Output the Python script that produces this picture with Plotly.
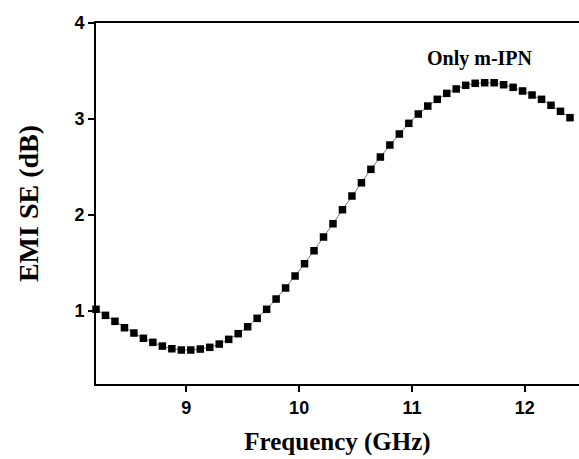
import plotly.graph_objects as go

freq_ghz = [8.200, 8.284, 8.368, 8.452, 8.536, 8.620, 8.704, 8.788, 8.872, 8.956,
            9.040, 9.124, 9.208, 9.292, 9.376, 9.460, 9.544, 9.628, 9.712, 9.796,
            9.880, 9.964, 10.048, 10.132, 10.216, 10.300, 10.384, 10.468, 10.552, 10.636,
            10.720, 10.804, 10.888, 10.972, 11.056, 11.140, 11.224, 11.308, 11.392, 11.476,
            11.560, 11.644, 11.728, 11.812, 11.896, 11.980, 12.064, 12.148, 12.232, 12.316,
            12.400]
emi_se_db = [1.018, 0.955, 0.893, 0.826, 0.771, 0.716, 0.674, 0.635, 0.607, 0.594,
             0.594, 0.604, 0.622, 0.656, 0.705, 0.764, 0.836, 0.924, 1.018, 1.125,
             1.240, 1.365, 1.493, 1.628, 1.771, 1.909, 2.055, 2.198, 2.336, 2.476,
             2.604, 2.729, 2.844, 2.955, 3.052, 3.135, 3.205, 3.267, 3.313, 3.351,
             3.372, 3.378, 3.378, 3.357, 3.330, 3.292, 3.250, 3.205, 3.143, 3.080,
             3.014]
x_ticks = [9, 10, 11, 12]
y_ticks = [1, 2, 3, 4]
label_text = "Only m-IPN"

fig = go.Figure()
fig.add_trace(go.Scatter(
    x=freq_ghz, y=emi_se_db, mode="lines+markers",
    line=dict(color="#777777", width=1),
    marker=dict(symbol="square", size=7.5, color="black", line=dict(width=0)),
    cliponaxis=False, showlegend=False,
))

fig.add_annotation(x=11.6, y=3.63, text="<b>" + label_text + "</b>", showarrow=False,
                   font=dict(family="Liberation Serif", size=20, color="black"))

fig.update_layout(
    width=579, height=459,
    margin=dict(l=96, r=0, t=23, b=75),
    plot_bgcolor="white", paper_bgcolor="white",
    xaxis=dict(range=[8.2, 12.48], tickvals=x_ticks, ticks="outside", ticklen=6, tickwidth=2,
               tickcolor="black", showline=True, linewidth=2, linecolor="black", mirror=True,
               showgrid=False, zeroline=False, automargin=False,
               tickfont=dict(family="Liberation Sans", size=18, color="black", weight="bold"),
               title=dict(text="<b>Frequency (GHz)</b>", standoff=16,
                          font=dict(family="Liberation Serif", size=25, color="black"))),
    yaxis=dict(range=[0.24, 4.0], tickvals=y_ticks, ticks="outside", ticklen=6, tickwidth=2,
               tickcolor="black", showline=True, linewidth=2, linecolor="black",
               showgrid=False, zeroline=False, automargin=False,
               tickfont=dict(family="Liberation Sans", size=18, color="black", weight="bold"),
               title=dict(text="<b>EMI SE (dB)</b>", standoff=28,
                          font=dict(family="Liberation Serif", size=28, color="black"))),
)

fig.write_html("out.html", config={"displayModeBar": False},
               post_script="document.body.style.margin='0';")
